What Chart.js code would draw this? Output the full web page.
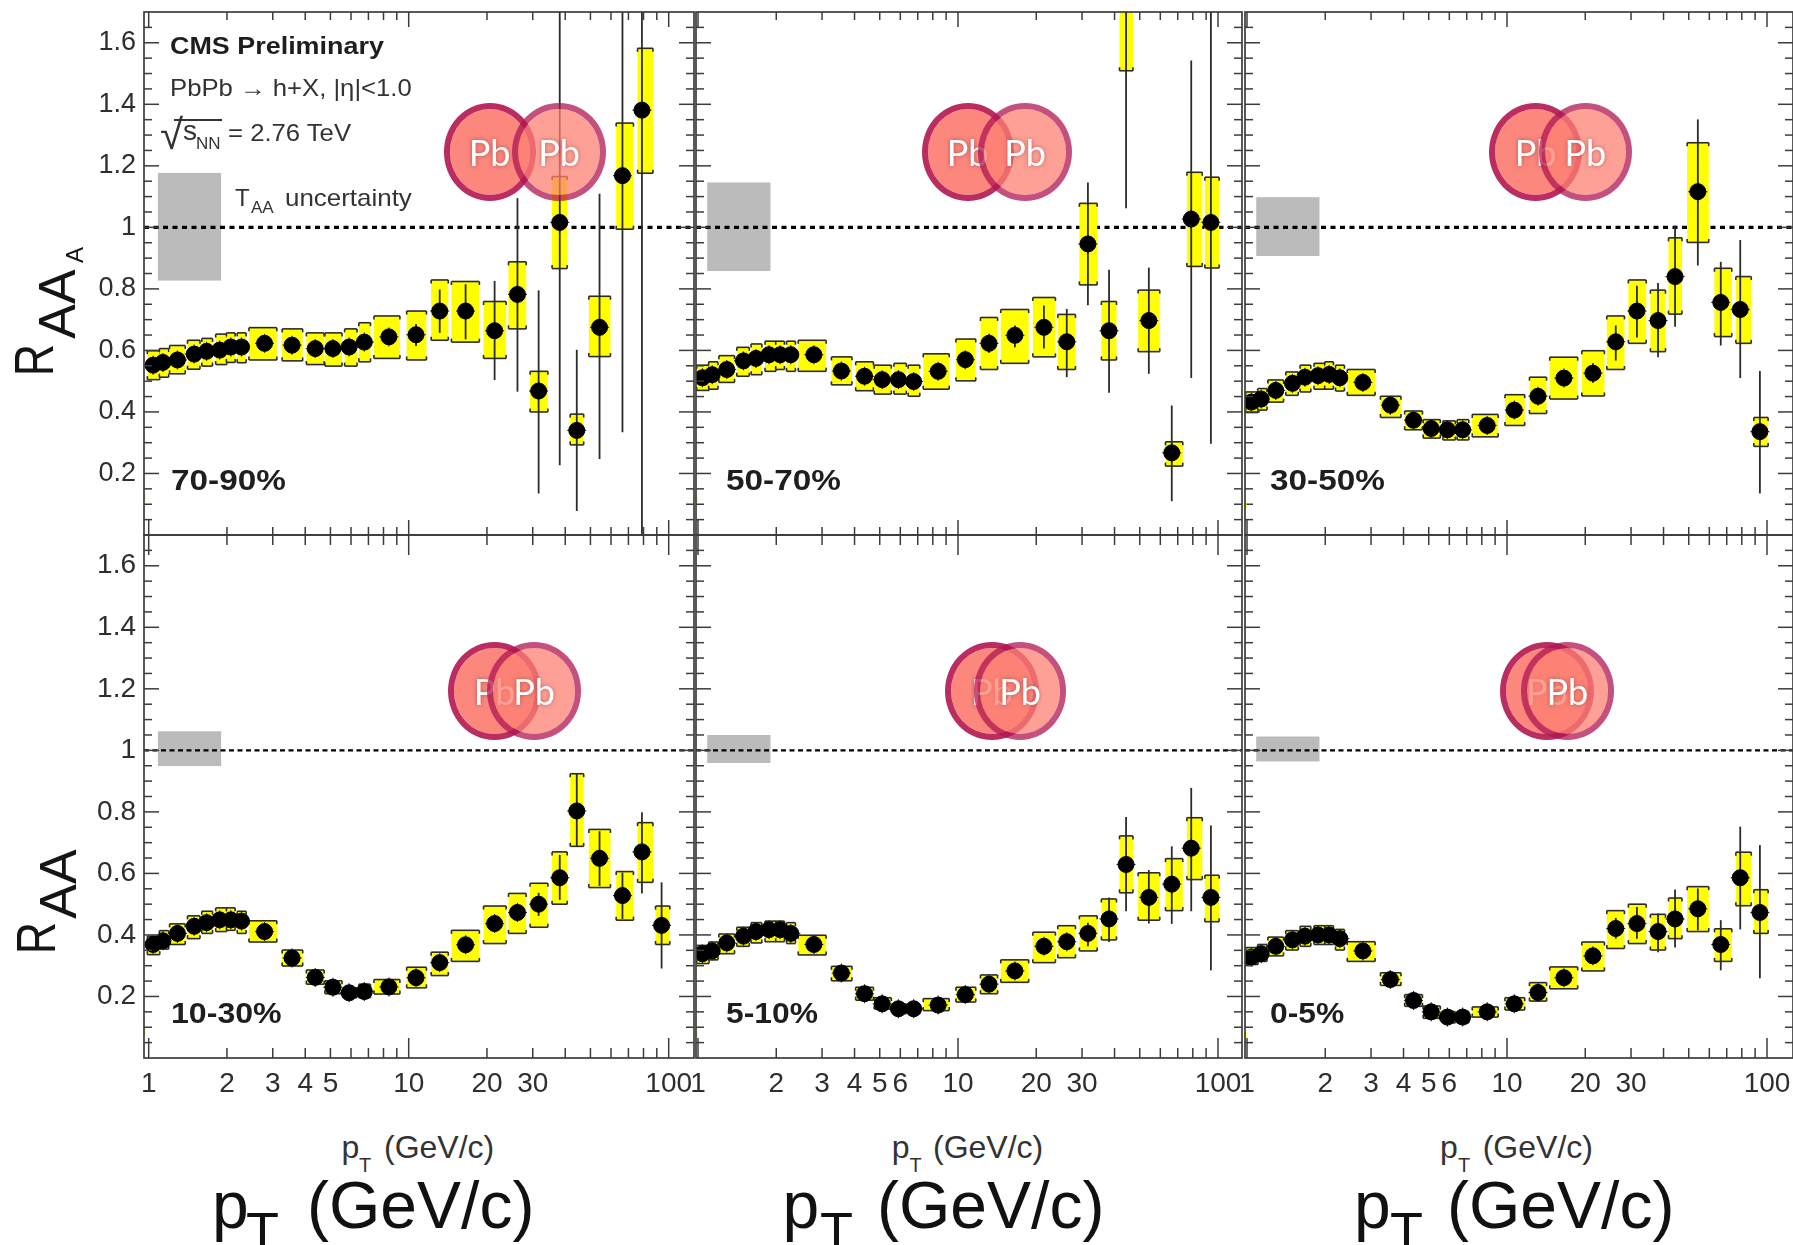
<!DOCTYPE html>
<html>
<head>
<meta charset="utf-8">
<title>RAA vs pT</title>
<script src="https://cdn.jsdelivr.net/npm/chart.js@4"></script>
<style>
html, body { margin: 0; padding: 0; background: #fff; width: 1793px; height: 1245px; overflow: hidden; }
canvas { position: absolute; }
.txt { position: absolute; white-space: nowrap; line-height: 1; font-family: "Liberation Sans", Arial, sans-serif; transform-origin: 0 0; }
.nucleus { position: absolute; box-sizing: border-box; border-radius: 50%; border-style: solid; background-clip: padding-box; display: flex; align-items: center; justify-content: center;
    color: #fff; font-family: Lato, sans-serif; font-size: 36px; text-shadow: 0 0 4px rgba(120,40,40,0.5); }
</style>
</head>
<body>
<script>
// bin centres and systematic box edges (GeV/c), same binning in all panels
const PT = [1.04, 1.134, 1.29, 1.496, 1.67, 1.875, 2.07, 2.275, 2.79, 3.56, 4.37, 5.11, 5.9, 6.75, 8.39, 10.67, 13.16, 16.55, 21.4, 26.2, 31.6, 38.1, 44.3, 54.2, 66.4, 78.9, 93.9];
const PT_LOW = [0.988, 1.099, 1.203, 1.41, 1.6, 1.81, 1.99, 2.19, 2.43, 3.26, 4.04, 4.76, 5.67, 6.43, 7.35, 9.82, 12.2, 14.6, 19.4, 24.2, 29.3, 35.6, 41.8, 49.3, 62.8, 75.9, 89];
const PT_HIGH = [1.103, 1.194, 1.382, 1.575, 1.76, 1.996, 2.15, 2.37, 3.11, 3.91, 4.73, 5.54, 6.33, 7.13, 9.25, 11.7, 14.2, 18.7, 23.7, 28.3, 34.3, 40.7, 47.1, 59.7, 73.2, 87, 101];

const xMajorTicks = [1, 10, 100];
const xMinorTicks = [2, 3, 4, 5, 6, 7, 8, 9, 20, 30, 40, 50, 60, 70, 80, 90];
const yMajorTicks = [0.2, 0.4, 0.6, 0.8, 1, 1.2, 1.4, 1.6];
const yMinorTicks = [0.05, 0.1, 0.15, 0.25, 0.3, 0.35, 0.45, 0.5, 0.55, 0.65, 0.7, 0.75, 0.85, 0.9, 0.95, 1.05, 1.1, 1.15, 1.25, 1.3, 1.35, 1.45, 1.5, 1.55, 1.65];
const xLabelsFirst = [1, 2, 3, 4, 5, 10, 20, 30, 100];
const xLabelsOther = [1, 2, 3, 4, 5, 6, 10, 20, 30, 100];

// stat arrays start at the 16th bin, below that the bars hide behind the marker
// 70-90%
const raa7090 = [.552, .561, .569, .588, .597, .601, .611, .611, .623, .617, .606, .606, .611, .627, .644, .651, .728, .728, .664, .782, .468, 1.016, .340, .675, 1.168, 1.381, null];
const sysHi7090 = [.599, .606, .616, .633, .639, .653, .657, .657, .674, .670, .657, .657, .670, .690, .712, .728, .829, .824, .759, .888, .532, 1.165, .393, .776, 1.339, 1.582, null];
const sysLo7090 = [.505, .513, .524, .539, .549, .554, .561, .560, .569, .566, .554, .549, .549, .563, .574, .569, .633, .627, .574, .670, .400, .866, .293, .580, .994, 1.176, null];
const statHi7090 = [.686, .798, .815, .826, 1.095, .795, 2.5, .602, 1.109, 2.5, 2.5, null];
const statLo7090 = [.614, .657, .636, .504, .466, .135, .227, .078, .247, .334, -.1, null];
// 50-70%
const raa5070 = [.511, .521, .538, .566, .574, .586, .586, .586, .586, .533, .516, .505, .505, .499, .532, .570, .623, .649, .675, .628, .946, .664, 1.85, .697, .267, 1.027, 1.016];
const sysHi5070 = [.552, .563, .583, .610, .621, .630, .630, .630, .633, .579, .563, .552, .558, .552, .589, .637, .707, .733, .772, .717, 1.078, .759, 2.19, .796, .303, 1.179, 1.163];
const sysLo5070 = [.470, .474, .496, .516, .521, .532, .538, .532, .532, .488, .469, .458, .458, .451, .474, .501, .538, .558, .579, .538, .813, .569, 1.509, .596, .224, .873, .868];
const statHi5070 = [.597, .653, .681, .746, .735, 1.146, .862, 2.6, .869, .421, 1.542, 2.5];
const statLo5070 = [.541, .593, .610, .606, .513, .747, .462, 1.062, .524, .110, .510, .297];
// 30-50%
const raa3050 = [.432, .442, .470, .493, .513, .518, .522, .511, .496, .422, .373, .346, .342, .342, .356, .406, .451, .510, .526, .628, .728, .697, .840, 1.116, .756, .733, .336];
const sysHi3050 = [.465, .476, .504, .530, .552, .558, .563, .552, .538, .451, .403, .375, .371, .375, .392, .456, .513, .578, .599, .712, .829, .796, .966, 1.275, .867, .840, .382];
const sysLo3050 = [.398, .406, .432, .454, .465, .474, .474, .468, .454, .382, .342, .315, .309, .309, .319, .356, .395, .442, .452, .538, .623, .596, .718, .951, .645, .623, .288];
const statHi3050 = [.428, .473, .532, .558, .681, .810, .819, 1.006, 1.351, .888, .959, .533];
const statLo3050 = [.384, .429, .488, .496, .567, .642, .578, .677, .876, .616, .510, .135];
// 10-30%
const raa1030 = [.369, .381, .405, .428, .440, .449, .449, .445, .411, .325, .262, .230, .212, .216, .231, .261, .310, .368, .437, .473, .500, .586, .803, .649, .528, .670, .431];
const sysHi1030 = [.396, .414, .436, .462, .477, .488, .488, .477, .446, .351, .286, .251, .228, .240, .255, .295, .344, .415, .494, .535, .568, .670, .924, .743, .606, .765, .494];
const sysLo1030 = [.336, .354, .369, .388, .405, .411, .415, .405, .377, .299, .240, .209, .196, .196, .208, .228, .268, .314, .372, .405, .425, .500, .688, .554, .448, .571, .369];
const statHi1030 = [.279, .328, .386, .455, .491, .537, .660, .924, .737, .603, .799, .571];
const statLo1030 = [.243, .292, .350, .419, .455, .462, .514, .688, .559, .452, .535, .291];
// 5-10%
const raa0510 = [.339, .348, .374, .396, .411, .417, .417, .405, .369, .276, .209, .176, .160, .160, .172, .206, .240, .283, .363, .378, .405, .452, .629, .522, .565, .682, .522];
const sysHi0510 = [.366, .377, .403, .425, .440, .445, .445, .440, .399, .298, .230, .196, .176, .176, .193, .230, .270, .319, .409, .430, .462, .517, .722, .602, .648, .781, .594];
const sysLo0510 = [.307, .319, .339, .363, .374, .378, .378, .372, .335, .251, .188, .159, .144, .144, .154, .182, .209, .246, .310, .326, .348, .384, .537, .448, .479, .580, .443];
const statHi0510 = [.224, .258, .301, .381, .396, .440, .522, .783, .611, .688, .878, .756];
const statLo0510 = [.188, .222, .265, .345, .360, .363, .377, .477, .437, .436, .477, .285];
// 0-5%
const raa0005 = [.328, .339, .363, .384, .396, .400, .400, .388, .348, .255, .187, .150, .133, .133, .150, .176, .213, .261, .332, .421, .437, .411, .452, .485, .369, .586, .473];
const sysHi0005 = [.359, .369, .393, .414, .428, .430, .430, .418, .378, .277, .206, .169, .151, .151, .166, .196, .245, .296, .377, .479, .500, .467, .520, .557, .420, .669, .547];
const sysLo0005 = [.304, .314, .332, .351, .363, .369, .369, .351, .314, .236, .168, .129, .114, .114, .133, .156, .185, .225, .283, .356, .372, .351, .388, .411, .314, .495, .405];
const statHi0005 = [.194, .231, .279, .350, .455, .491, .470, .548, .551, .448, .752, .692];
const statLo0005 = [.158, .195, .243, .314, .388, .388, .344, .359, .415, .285, .418, .259];

// T_AA normalisation band per panel
const taaHi = [1.177, 1.146, 1.098, 1.062, 1.05, 1.045];
const taaLo = [.827, .858, .907, .949, .959, .964];
const taaPt = [1.085, 1.90];
const speck = [.127, .115, .096, .085, .077, .074];

const DECADE_PX = 260;
const panels = [
    { id: 0, left: 144, right: 694, one: 148.7, top: 12, bottom: 534.8, raa: raa7090, sysHi: sysHi7090, sysLo: sysLo7090, statHi: statHi7090, statLo: statLo7090 },
    { id: 1, left: 696, right: 1242, one: 698, top: 12, bottom: 534.8, raa: raa5070, sysHi: sysHi5070, sysLo: sysLo5070, statHi: statHi5070, statLo: statLo5070 },
    { id: 2, left: 1245, right: 1793, one: 1247, top: 12, bottom: 534.8, raa: raa3050, sysHi: sysHi3050, sysLo: sysLo3050, statHi: statHi3050, statLo: statLo3050 },
    { id: 3, left: 144, right: 694, one: 148.7, top: 534.6, bottom: 1057.6, raa: raa1030, sysHi: sysHi1030, sysLo: sysLo1030, statHi: statHi1030, statLo: statLo1030 },
    { id: 4, left: 696, right: 1242, one: 698, top: 534.6, bottom: 1057.6, raa: raa0510, sysHi: sysHi0510, sysLo: sysLo0510, statHi: statHi0510, statLo: statLo0510 },
    { id: 5, left: 1245, right: 1793, one: 1247, top: 534.6, bottom: 1057.6, raa: raa0005, sysHi: sysHi0005, sysLo: sysLo0005, statHi: statHi0005, statLo: statLo0005 }
];

const FIRST_STAT = 15;
const LINE = '#2b2b2b';
const FRAME = '#3c3c3c';

function hline(ctx, x0, x1, y) {
    ctx.beginPath(); ctx.moveTo(x0, y); ctx.lineTo(x1, y); ctx.stroke();
}
function vline(ctx, x, y0, y1) {
    ctx.beginPath(); ctx.moveTo(x, y0); ctx.lineTo(x, y1); ctx.stroke();
}

const panelMarks = {
    id: 'panelMarks',
    beforeDatasetsDraw(chart, args, opts) {
        const p = opts.panel, ctx = chart.ctx, xs = chart.scales.x, ys = chart.scales.y;
        const x0 = xs.getPixelForValue(taaPt[0]), x1 = xs.getPixelForValue(taaPt[1]);
        const y0 = ys.getPixelForValue(taaHi[p.id]), y1 = ys.getPixelForValue(taaLo[p.id]);
        ctx.fillStyle = '#bbbbbb';
        ctx.fillRect(x0, y0, x1 - x0, y1 - y0);
    },
    beforeDatasetDraw(chart, args, opts) {
        if (chart.data.datasets[args.index].label !== 'RAA') return;
        const p = opts.panel, ctx = chart.ctx, xs = chart.scales.x, ys = chart.scales.y, a = chart.chartArea;
        ctx.save();
        ctx.beginPath();
        ctx.rect(a.left, a.top, a.right - a.left, a.bottom - a.top);
        ctx.clip();
        PT.forEach((pt, i) => {
            if (p.raa[i] === null) return;
            const x = xs.getPixelForValue(pt);
            const xl = xs.getPixelForValue(PT_LOW[i]), xr = xs.getPixelForValue(PT_HIGH[i]);
            const yt = ys.getPixelForValue(p.sysHi[i]), yb = ys.getPixelForValue(p.sysLo[i]);
            const y = ys.getPixelForValue(p.raa[i]);
            ctx.fillStyle = '#ffff00';
            ctx.fillRect(xl, yt, xr - xl, yb - yt);
            ctx.strokeStyle = LINE;
            ctx.lineWidth = 1.6;
            hline(ctx, xl, xr, yt);
            hline(ctx, xl, xr, yb);
            vline(ctx, xl, yt, yt + 3.5);
            vline(ctx, xr, yt, yt + 3.5);
            vline(ctx, xl, yb - 3.5, yb);
            vline(ctx, xr, yb - 3.5, yb);
            // stat bar, plus the small nubs that stick out of the marker
            ctx.lineWidth = 1.2;
            hline(ctx, x - 9.5, x + 9.5, y);
            vline(ctx, x, y - 9.5, y + 9.5);
            ctx.lineWidth = 1.8;
            if (i >= FIRST_STAT) {
                const k = i - FIRST_STAT;
                vline(ctx, x, ys.getPixelForValue(p.statHi[k]), ys.getPixelForValue(p.statLo[k]));
            }
        });
        ctx.restore();
    },
    afterDraw(chart, args, opts) {
        const p = opts.panel, ctx = chart.ctx, xs = chart.scales.x, ys = chart.scales.y, a = chart.chartArea;
        const lowRow = p.id > 2;
        ctx.save();
        ctx.strokeStyle = FRAME;
        ctx.lineWidth = 1.5;
        xMajorTicks.concat(xMinorTicks).forEach(v => {
            const x = xs.getPixelForValue(v);
            const major = xMajorTicks.includes(v);
            const len = major ? (lowRow ? 20 : 15) : (lowRow ? 10 : 8);
            vline(ctx, x, a.top, a.top + len);
            vline(ctx, x, a.bottom - len, a.bottom);
        });
        yMajorTicks.concat(yMinorTicks).forEach(v => {
            const y = ys.getPixelForValue(v);
            const len = yMajorTicks.includes(v) ? 15 : 8;
            hline(ctx, a.left, a.left + len, y);
            hline(ctx, a.right - len, a.right, y);
        });
        ctx.fillStyle = '#ffff00';
        ctx.fillRect(a.left - 1, ys.getPixelForValue(speck[p.id]) - 3, 2.5, 6);
        ctx.lineWidth = 1.7;
        ctx.strokeRect(a.left, a.top, a.right - a.left, a.bottom - a.top);
        ctx.restore();
    }
};

function makePanel(p) {
    const lowRow = p.id > 2;
    const marginL = p.id % 3 === 0 ? p.left : 30;
    const marginT = 10, marginR = 40, marginB = 50;
    const canvas = document.createElement('canvas');
    const w = p.right - p.left + marginL + marginR;
    const h = Math.round(p.bottom - p.top + marginT + marginB);
    canvas.width = w;
    canvas.height = h;
    canvas.style.left = (p.left - marginL) + 'px';
    canvas.style.top = (p.top - marginT) + 'px';
    document.body.appendChild(canvas);

    const xMin = Math.pow(10, (p.left - p.one) / DECADE_PX);
    const xMax = Math.pow(10, (p.right - p.one) / DECADE_PX);
    const xLabels = p.id === 3 ? xLabelsFirst : xLabelsOther;
    const labelColor = '#2e2e2e';
    // tick labels must not push the frame in
    const noPad = s => { s.paddingTop = s.paddingBottom = s.paddingLeft = s.paddingRight = 0; };

    new Chart(canvas, {
        type: 'scatter',
        data: {
            datasets: [
                {
                    label: 'one',
                    type: 'line',
                    data: [{ x: xMin, y: 1 }, { x: xMax, y: 1 }],
                    borderColor: '#000',
                    borderWidth: lowRow ? 2.4 : 3.2,
                    borderDash: lowRow ? [5, 3.5] : [5, 4.5],
                    pointRadius: 0,
                    order: 2
                },
                {
                    label: 'RAA',
                    data: PT.map((pt, i) => ({ x: pt, y: p.raa[i] })),
                    backgroundColor: '#000',
                    borderColor: '#000',
                    pointRadius: 8,
                    order: 1
                }
            ]
        },
        options: {
            responsive: false,
            animation: false,
            layout: { padding: { left: 0, top: marginT, right: marginR, bottom: 0 } },
            plugins: {
                legend: { display: false },
                tooltip: { enabled: false },
                panelMarks: { panel: p }
            },
            scales: {
                x: {
                    type: 'logarithmic',
                    min: xMin,
                    max: xMax,
                    grid: { display: false },
                    border: { display: false },
                    afterBuildTicks: s => { s.ticks = xLabels.map(v => ({ value: v })); },
                    afterFit: s => { s.height = marginB; noPad(s); },
                    ticks: {
                        display: lowRow,
                        autoSkip: false,
                        maxRotation: 0,
                        padding: 1,
                        color: labelColor,
                        font: { family: 'Liberation Sans', size: 28 },
                        callback: v => String(v)
                    }
                },
                y: {
                    type: 'linear',
                    min: 0,
                    max: 1.7,
                    grid: { display: false },
                    border: { display: false },
                    afterBuildTicks: s => { s.ticks = yMajorTicks.map(v => ({ value: v })); },
                    afterFit: s => { s.width = marginL; noPad(s); },
                    ticks: {
                        display: p.id % 3 === 0,
                        autoSkip: false,
                        padding: 0,
                        color: labelColor,
                        font: { family: 'Liberation Sans', size: lowRow ? 28 : 27 },
                        callback: v => (v === 1 ? '1' : v.toFixed(1))
                    }
                }
            }
        },
        plugins: [panelMarks]
    });
}

panels.forEach(makePanel);

// x is the left edge, base the baseline (line-height 1 puts it at 0.8465em)
function addText(str, x, base, size, o) {
    o = o || {};
    const d = document.createElement('div');
    d.className = 'txt';
    d.innerHTML = str;
    d.style.left = x + 'px';
    d.style.top = (base - 0.8465 * size) + 'px';
    d.style.fontSize = size + 'px';
    d.style.color = o.color || '#1e1e1e';
    if (o.bold) d.style.fontWeight = 'bold';
    if (o.sx) d.style.transform = 'scaleX(' + o.sx + ')';
    document.body.appendChild(d);
}

function addRotated(str, cx, cy, size, sx) {
    const d = document.createElement('div');
    d.className = 'txt';
    d.textContent = str;
    d.style.left = cx + 'px';
    d.style.top = cy + 'px';
    d.style.fontSize = size + 'px';
    d.style.color = '#151515';
    d.style.transformOrigin = '50% 50%';
    d.style.transform = 'translate(-50%,-50%) rotate(-90deg) scaleX(' + sx + ')';
    document.body.appendChild(d);
}

function addNucleus(cx, cy, rx, ry, fill, border, bw) {
    const d = document.createElement('div');
    d.className = 'nucleus';
    d.textContent = 'Pb';
    d.style.left = (cx - rx) + 'px';
    d.style.top = (cy - ry) + 'px';
    d.style.width = (2 * rx) + 'px';
    d.style.height = (2 * ry) + 'px';
    d.style.backgroundColor = fill;
    d.style.borderColor = border;
    d.style.borderWidth = bw + 'px';
    document.body.appendChild(d);
}

const LEFT_FILL = '#fb877d', LEFT_EDGE = '#bb2d60';
const RIGHT_FILL = 'rgba(253,128,115,0.75)', RIGHT_EDGE = 'rgba(175,21,81,0.75)';
[
    [489.7, 151.5, 46.2, 559, 46.6],
    [967.5, 151.5, 46, 1025, 46.8],
    [1535.6, 151.5, 46.6, 1585.3, 46.6],
    [494.6, 690.5, 46.2, 534, 47.3],
    [991.8, 690.5, 46.8, 1020, 46.4],
    [1546.9, 690.5, 46.9, 1567.3, 46.7]
].forEach(n => {
    addNucleus(n[0], n[1], n[2], 49, LEFT_FILL, LEFT_EDGE, 6);
    addNucleus(n[3], n[1], n[4], 49, RIGHT_FILL, RIGHT_EDGE, 6);
});

addText('CMS Preliminary', 170, 54.4, 23, { bold: true, sx: 1.17 });
addText('PbPb &rarr; h+X, |&eta;|&lt;1.0', 170, 96.4, 24, { sx: 1.07, color: '#333' });
addText('&radic;', 160, 150, 42, { color: '#333' });
addText('s', 183, 141, 28, { color: '#333' });
addText('NN', 196, 149, 17, { color: '#333' });
addText('= 2.76 TeV', 227.7, 141, 24, { sx: 1.07, color: '#333' });
const bar = document.createElement('div');
bar.style.cssText = 'position:absolute;left:174px;top:119px;width:48px;height:1.5px;background:#333';
document.body.appendChild(bar);
addText('T', 235, 206.6, 24, { color: '#333' });
addText('AA', 251, 213.5, 17, { color: '#333' });
addText('uncertainty', 285, 206.6, 24, { sx: 1.08, color: '#333' });

addText('70-90%', 170.5, 490.7, 30, { bold: true, sx: 1.11 });
addText('50-70%', 725.7, 490.7, 30, { bold: true, sx: 1.11 });
addText('30-50%', 1270, 490.7, 30, { bold: true, sx: 1.11 });
addText('10-30%', 170.5, 1023.8, 30, { bold: true, sx: 1.07 });
addText('5-10%', 725.7, 1023.8, 30, { bold: true, sx: 1.06 });
addText('0-5%', 1270, 1023.8, 30, { bold: true, sx: 1.06 });

// small axis titles, then the big ones pasted over the slide
[[341.5, 359, 384], [891.8, 909.6, 933], [1440, 1458, 1482.7]].forEach(t => {
    addText('p', t[0], 1158, 32, { color: '#333' });
    addText('T', t[1], 1172, 20, { color: '#333' });
    addText('(GeV/c)', t[2], 1158, 32, { color: '#333' });
});
[[212, 246, 307], [782.6, 820, 877], [1354, 1390, 1447]].forEach(t => {
    addText('p', t[0], 1228, 66, { color: '#111' });
    addText('T', t[1], 1250, 54, { color: '#111' });
    addText('(GeV/c)', t[2], 1228, 66, { color: '#111' });
});

addRotated('R', 33.5, 359.5, 56, 0.8);
addRotated('AA', 57, 303.5, 52, 1);
addRotated('A', 75, 255, 24, 1);
addRotated('R', 36, 938, 56, 0.8);
addRotated('AA', 58, 883.5, 52, 1);
</script>
</body>
</html>
